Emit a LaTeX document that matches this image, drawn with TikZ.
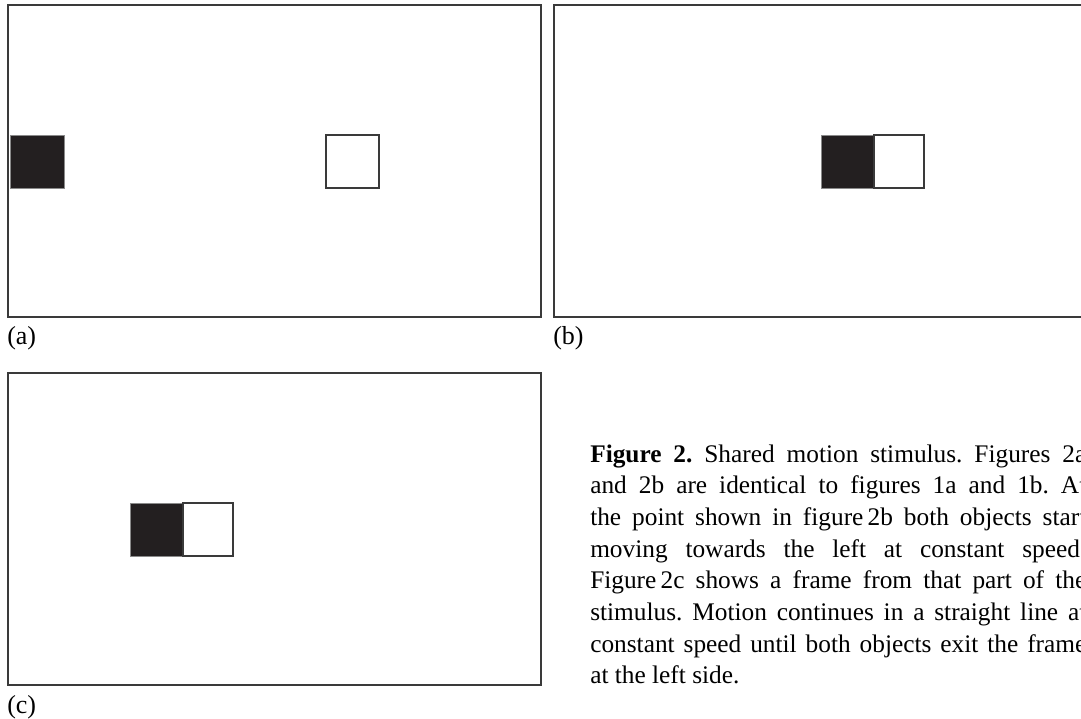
\documentclass[tikz,border=0pt]{standalone}
\usepackage{fontspec}
\setmainfont{Liberation Serif}
\frenchspacing
\definecolor{framec}{HTML}{3A3A3A}
\definecolor{fillc}{HTML}{231F20}
\definecolor{sqedge}{HTML}{8A8A8A}
\tikzset{
  frame/.style={draw=framec, line width=1.5pt},
  blacksq/.style={fill=fillc, draw=sqedge, line width=0.5pt},
  whitesq/.style={fill=white, draw=framec, line width=1.5pt},
  lab/.style={anchor=base west, inner sep=0pt, font=\fontsize{19.5}{23}\selectfont},
  capline/.style={anchor=base west, inner sep=0pt, font=\fontsize{19}{23}\selectfont\frenchspacing},
}
\newcommand{\jline}[1]{\makebox[372pt][s]{#1}}
\begin{document}
\begin{tikzpicture}[x=0.75pt,y=-0.75pt]
\clip (0,0) rectangle (1081,718);
\fill[white] (0,0) rectangle (1081,718);
% frames
\draw[frame] (8,5) rectangle (541,317);
\draw[frame] (554,5) rectangle (1087,317);
\draw[frame] (8,373) rectangle (541,685);
% frame a squares
\draw[blacksq] (10,135) rectangle (64,188);
\draw[whitesq] (326,135) rectangle (379,188);
% frame b squares
\draw[blacksq] (821,135) rectangle (874,188);
\draw[whitesq] (874,135) rectangle (924,188);
% frame c squares
\draw[blacksq] (130,503) rectangle (183,556);
\draw[whitesq] (183,503) rectangle (233,556);
% labels
\node[lab] (la) at (7,344) {(a)};
\node[lab] (lb) at (553,344) {(b)};
\node[lab] (lc) at (7,713) {(c)};
% caption
\node[capline] (c1) at (590,462) {\jline{\textbf{Figure 2.} Shared motion stimulus. Figures 2a}};
\node[capline] (c2) at (590,493.7) {\jline{and 2b are identical to figures 1a and 1b. At}};
\node[capline] (c3) at (590,525.4) {\jline{the point shown in figure\,2b both objects start}};
\node[capline] (c4) at (590,557.1) {\jline{moving towards the left at constant speed.}};
\node[capline] (c5) at (590,588.8) {\jline{Figure\,2c shows a frame from that part of the}};
\node[capline] (c6) at (590,620.5) {\jline{stimulus. Motion continues in a straight line at}};
\node[capline] (c7) at (590,652.2) {\jline{constant speed until both objects exit the frame}};
\node[capline] (c8) at (590,683.9) {at the left side.};
\end{tikzpicture}
\end{document}
